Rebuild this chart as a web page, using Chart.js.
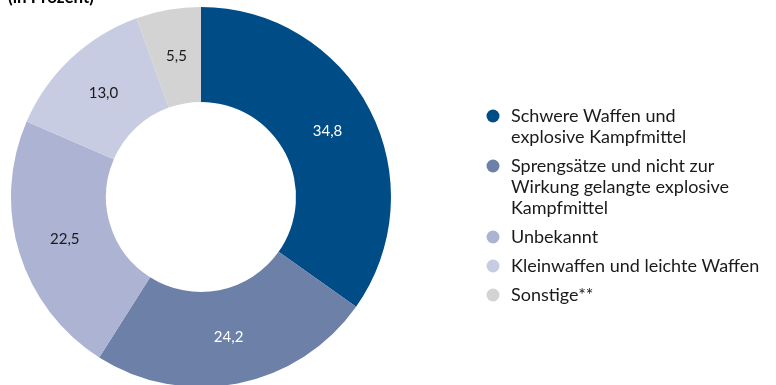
<!DOCTYPE html>
<html lang="de">
<head>
<meta charset="utf-8">
<script src="https://cdn.jsdelivr.net/npm/chart.js@4.4.1/dist/chart.umd.min.js"></script>
<style>
  html, body { margin: 0; padding: 0; background: #fff; overflow: hidden; }
  #wrap { position: absolute; left: 0; top: 0; width: 776px; height: 400px; }
</style>
</head>
<body>
<div id="wrap"><canvas id="chart" width="776" height="400"></canvas></div>
<script>
// Anteile nach Waffenart (in Prozent)
const categories = [
  ["Schwere Waffen und", "explosive Kampfmittel"],
  ["Sprengsätze und nicht zur", "Wirkung gelangte explosive", "Kampfmittel"],
  ["Unbekannt"],
  ["Kleinwaffen und leichte Waffen"],
  ["Sonstige**"]
];
const shares = [34.8, 24.2, 22.5, 13.0, 5.5];
const sliceColors = ["#004c87", "#6c80a8", "#adb3d3", "#c8cce2", "#d3d3d3"];
const labelColors = ["#ffffff", "#ffffff", "#1a1a1a", "#1a1a1a", "#1a1a1a"];
const titleText = "(in Prozent)";

const FONT = "Lato, 'Open Sans', sans-serif";

// Werte in den Segmenten, Legende rechts und Titelzeile
const decorations = {
  id: "decorations",
  afterDatasetsDraw(chart) {
    const ctx = chart.ctx;
    const meta = chart.getDatasetMeta(0);
    ctx.save();
    ctx.textAlign = "center";
    ctx.textBaseline = "middle";
    ctx.font = "15px " + FONT;
    meta.data.forEach((arc, i) => {
      const p = arc.getCenterPoint();
      ctx.fillStyle = labelColors[i];
      ctx.fillText(shares[i].toFixed(1).replace(".", ","), p.x, p.y);
    });

    // Legende
    const lx = 493, tx = 511, lineH = 21, gap = 8;
    let y = 116;
    ctx.textAlign = "left";
    ctx.font = "18px " + FONT;
    categories.forEach((lines, i) => {
      ctx.fillStyle = sliceColors[i];
      ctx.beginPath();
      ctx.arc(lx, y, 6.5, 0, Math.PI * 2);
      ctx.fill();
      ctx.fillStyle = "#1a1a1a";
      lines.forEach((t, k) => ctx.fillText(t, tx, y + k * lineH));
      y += lines.length * lineH + gap;
    });

    // Titel
    ctx.font = "bold 17px " + FONT;
    ctx.textBaseline = "alphabetic";
    ctx.fillStyle = "#000000";
    ctx.fillText(titleText, 8, 3);
    ctx.restore();
  }
};

new Chart(document.getElementById("chart"), {
  type: "doughnut",
  data: {
    labels: categories.map(l => l.join(" ")),
    datasets: [{
      data: shares,
      backgroundColor: sliceColors,
      borderWidth: 0,
      hoverBorderWidth: 0,
      hoverOffset: 0,
      offset: 0
    }]
  },
  options: {
    responsive: false,
    animation: false,
    events: [],
    cutout: "50%",
    layout: { padding: { left: 11, right: 385, top: 7, bottom: 13 } },
    plugins: {
      legend: { display: false },
      tooltip: { enabled: false },
      title: { display: false }
    }
  },
  plugins: [decorations]
});
</script>
</body>
</html>
